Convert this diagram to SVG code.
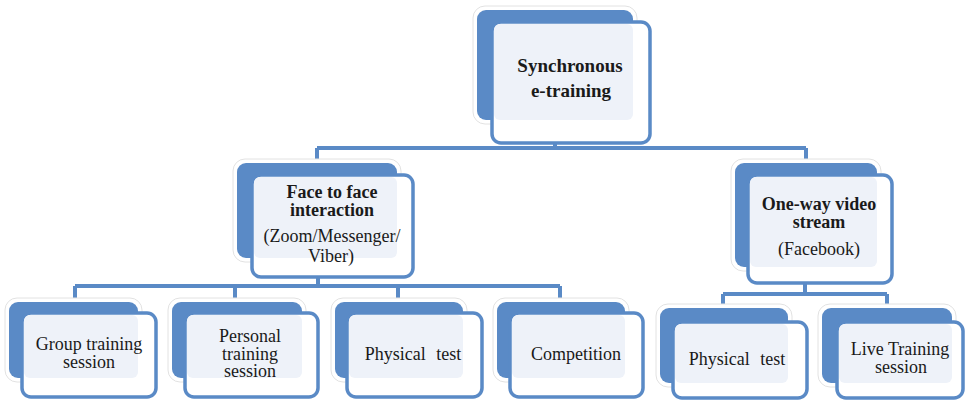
<svg xmlns="http://www.w3.org/2000/svg" width="965" height="401" viewBox="0 0 965 401">
<style>
.bg{fill:#ffffff}
.glow{fill:#ffffff;stroke:#e2e2e2;stroke-width:1}
.back{fill:#5a8ac6}
.front{fill:#ffffff;stroke:#5a8ac6;stroke-width:3.5}
.light{fill:#eef2f9}
.conn{fill:none;stroke:#5a8ac6;stroke-width:4}
</style>
<rect class="bg" x="0" y="0" width="965" height="401"/>
<g id="connectors">
<path class="conn" d="M555 120 V148 M317 148 H806 M317 148 V165 M806 148 V165"/>
<path class="conn" d="M318 258 V286 M75 286 H560 M75 286 V304 M235 286 V304 M398 286 V304 M560 286 V304"/>
<path class="conn" d="M805 267 V294 M723 294 H887 M723 294 V310 M887 294 V310"/>
</g>
<g id="n-sync">
<rect class="glow" x="473" y="6" width="164" height="118" rx="12"/>
<rect class="back" x="477" y="10" width="156" height="110" rx="9"/>
<rect class="front" x="492" y="22" width="158" height="121" rx="9"/>
<rect class="light" x="494" y="24" width="139" height="96" rx="6"/>
<text x="570" y="72" font-family="'Liberation Serif',serif" font-size="19" font-weight="bold" text-anchor="middle" fill="#1a1a1a">Synchronous</text>
<text x="571" y="97" font-family="'Liberation Serif',serif" font-size="19" font-weight="bold" text-anchor="middle" fill="#1a1a1a">e-training</text>
</g>
<g id="n-face">
<rect class="glow" x="233" y="159" width="168" height="103" rx="12"/>
<rect class="back" x="237" y="163" width="160" height="95" rx="9"/>
<rect class="front" x="252" y="175" width="161" height="102" rx="9"/>
<rect class="light" x="254" y="177" width="143" height="81" rx="6"/>
<text x="332" y="198" font-family="'Liberation Serif',serif" font-size="18" font-weight="bold" text-anchor="middle" fill="#1a1a1a">Face to face</text>
<text x="332" y="216" font-family="'Liberation Serif',serif" font-size="18" font-weight="bold" text-anchor="middle" fill="#1a1a1a">interaction</text>
<text x="332" y="242" font-family="'Liberation Serif',serif" font-size="18" text-anchor="middle" fill="#1a1a1a">(Zoom/Messenger/</text>
<text x="331" y="262" font-family="'Liberation Serif',serif" font-size="18" text-anchor="middle" fill="#1a1a1a">Viber)</text>
</g>
<g id="n-oneway">
<rect class="glow" x="731" y="159" width="150" height="112" rx="12"/>
<rect class="back" x="735" y="163" width="142" height="104" rx="9"/>
<rect class="front" x="748" y="175" width="144" height="108" rx="9"/>
<rect class="light" x="750" y="177" width="127" height="90" rx="6"/>
<text x="819" y="210" font-family="'Liberation Serif',serif" font-size="18" font-weight="bold" text-anchor="middle" fill="#1a1a1a">One-way video</text>
<text x="819" y="228" font-family="'Liberation Serif',serif" font-size="18" font-weight="bold" text-anchor="middle" fill="#1a1a1a">stream</text>
<text x="819" y="255" font-family="'Liberation Serif',serif" font-size="18" text-anchor="middle" fill="#1a1a1a">(Facebook)</text>
</g>
<g id="n-group">
<rect class="glow" x="5" y="298" width="137" height="84" rx="12"/>
<rect class="back" x="9" y="302" width="129" height="76" rx="9"/>
<rect class="front" x="22" y="313" width="134" height="84" rx="9"/>
<rect class="light" x="24" y="315" width="114" height="63" rx="6"/>
<text x="89" y="350" font-family="'Liberation Serif',serif" font-size="18" text-anchor="middle" fill="#1a1a1a">Group training</text>
<text x="89" y="368" font-family="'Liberation Serif',serif" font-size="18" text-anchor="middle" fill="#1a1a1a">session</text>
</g>
<g id="n-personal">
<rect class="glow" x="168" y="298" width="138" height="84" rx="12"/>
<rect class="back" x="172" y="302" width="130" height="76" rx="9"/>
<rect class="front" x="185" y="313" width="133" height="84" rx="9"/>
<rect class="light" x="187" y="315" width="115" height="63" rx="6"/>
<text x="250" y="342" font-family="'Liberation Serif',serif" font-size="18" text-anchor="middle" fill="#1a1a1a">Personal</text>
<text x="250" y="360" font-family="'Liberation Serif',serif" font-size="18" text-anchor="middle" fill="#1a1a1a">training</text>
<text x="250" y="377" font-family="'Liberation Serif',serif" font-size="18" text-anchor="middle" fill="#1a1a1a">session</text>
</g>
<g id="n-physical1">
<rect class="glow" x="331" y="298" width="136" height="84" rx="12"/>
<rect class="back" x="335" y="302" width="128" height="76" rx="9"/>
<rect class="front" x="347" y="313" width="135" height="84" rx="9"/>
<rect class="light" x="349" y="315" width="114" height="63" rx="6"/>
<text x="413" y="360" font-family="'Liberation Serif',serif" font-size="18" text-anchor="middle" fill="#1a1a1a" word-spacing="6">Physical test</text>
</g>
<g id="n-competition">
<rect class="glow" x="493" y="298" width="136" height="84" rx="12"/>
<rect class="back" x="497" y="302" width="128" height="76" rx="9"/>
<rect class="front" x="510" y="313" width="133" height="84" rx="9"/>
<rect class="light" x="512" y="315" width="113" height="63" rx="6"/>
<text x="576" y="360" font-family="'Liberation Serif',serif" font-size="18" text-anchor="middle" fill="#1a1a1a">Competition</text>
</g>
<g id="n-physical2">
<rect class="glow" x="656" y="304" width="136" height="83" rx="12"/>
<rect class="back" x="660" y="308" width="128" height="75" rx="9"/>
<rect class="front" x="673" y="322" width="134" height="76" rx="9"/>
<rect class="light" x="675" y="324" width="113" height="59" rx="6"/>
<text x="737" y="365" font-family="'Liberation Serif',serif" font-size="18" text-anchor="middle" fill="#1a1a1a" word-spacing="6">Physical test</text>
</g>
<g id="n-live">
<rect class="glow" x="818" y="304" width="138" height="83" rx="12"/>
<rect class="back" x="822" y="308" width="130" height="75" rx="9"/>
<rect class="front" x="837" y="322" width="126" height="76" rx="9"/>
<rect class="light" x="839" y="324" width="113" height="59" rx="6"/>
<text x="900" y="355" font-family="'Liberation Serif',serif" font-size="18" text-anchor="middle" fill="#1a1a1a">Live Training</text>
<text x="901" y="373" font-family="'Liberation Serif',serif" font-size="18" text-anchor="middle" fill="#1a1a1a">session</text>
</g>
</svg>
